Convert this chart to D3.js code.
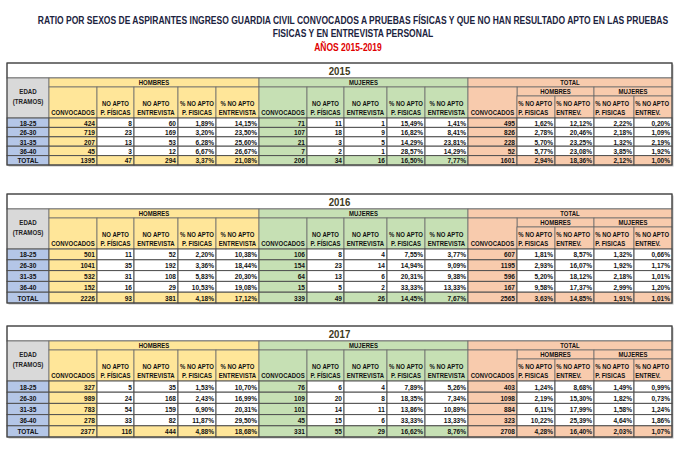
<!DOCTYPE html>
<html><head><meta charset="utf-8">
<script src="https://cdn.jsdelivr.net/npm/d3@7"></script>
<style>
html,body{margin:0;padding:0;background:#fff;}
svg{display:block;font-family:"Liberation Sans",Arial,sans-serif;font-weight:bold;}
</style></head><body>
<svg id="chart" width="682" height="452"></svg>
<script>
// ---------- DATA ----------
const titleLines = ["RATIO POR SEXOS DE ASPIRANTES INGRESO GUARDIA CIVIL CONVOCADOS A PRUEBAS FÍSICAS Y QUE NO HAN RESULTADO APTO EN LAS PRUEBAS",
                    "FISICAS Y EN ENTREVISTA PERSONAL"];
const subtitle = "AÑOS 2015-2019";
const years = ["2015", "2016", "2017"];
const ageGroups = ["18-25", "26-30", "31-35", "36-40", "TOTAL"];
const rowHeaderLabel = ["EDAD", "(TRAMOS)"];
const groupLabels = ["HOMBRES", "MUJERES", "TOTAL"];
const totalSubGroups = ["HOMBRES", "MUJERES"];
const sexColumns = [["CONVOCADOS"], ["NO APTO", "P. FÍSICAS"], ["NO APTO", "ENTREVISTA"], ["% NO APTO", "P. FISICAS"], ["% NO APTO", "ENTREVISTA"]];
const totalColumns = [["CONVOCADOS"], ["% NO APTO", "P. FISICAS"], ["% NO APTO", "ENTREV."], ["% NO APTO", "P. FISICAS"], ["% NO APTO", "ENTREV."]];

// rows: convocados, no apto físicas, no apto entrevista, % físicas, % entrevista
const hombres2015 = [[424, 8, 60, 1.89, 14.15], [719, 23, 169, 3.20, 23.50], [207, 13, 53, 6.28, 25.60], [45, 3, 12, 6.67, 26.67], [1395, 47, 294, 3.37, 21.08]];
const mujeres2015 = [[71, 11, 1, 15.49, 1.41], [107, 18, 9, 16.82, 8.41], [21, 3, 5, 14.29, 23.81], [7, 2, 1, 28.57, 14.29], [206, 34, 16, 16.50, 7.77]];
// rows: convocados, H % físicas, H % entrev., M % físicas, M % entrev.
const total2015 = [[495, 1.62, 12.12, 2.22, 0.20], [826, 2.78, 20.46, 2.18, 1.09], [228, 5.70, 23.25, 1.32, 2.19], [52, 5.77, 23.08, 3.85, 1.92], [1601, 2.94, 18.36, 2.12, 1.00]];

const hombres2016 = [[501, 11, 52, 2.20, 10.38], [1041, 35, 192, 3.36, 18.44], [532, 31, 108, 5.83, 20.30], [152, 16, 29, 10.53, 19.08], [2226, 93, 381, 4.18, 17.12]];
const mujeres2016 = [[106, 8, 4, 7.55, 3.77], [154, 23, 14, 14.94, 9.09], [64, 13, 6, 20.31, 9.38], [15, 5, 2, 33.33, 13.33], [339, 49, 26, 14.45, 7.67]];
const total2016 = [[607, 1.81, 8.57, 1.32, 0.66], [1195, 2.93, 16.07, 1.92, 1.17], [596, 5.20, 18.12, 2.18, 1.01], [167, 9.58, 17.37, 2.99, 1.20], [2565, 3.63, 14.85, 1.91, 1.01]];

const hombres2017 = [[327, 5, 35, 1.53, 10.70], [989, 24, 168, 2.43, 16.99], [783, 54, 159, 6.90, 20.31], [278, 33, 82, 11.87, 29.50], [2377, 116, 444, 4.88, 18.68]];
const mujeres2017 = [[76, 6, 4, 7.89, 5.26], [109, 20, 8, 18.35, 7.34], [101, 14, 11, 13.86, 10.89], [45, 15, 6, 33.33, 13.33], [331, 55, 29, 16.62, 8.76]];
const total2017 = [[403, 1.24, 8.68, 1.49, 0.99], [1098, 2.19, 15.30, 1.82, 0.73], [884, 6.11, 17.99, 1.58, 1.24], [323, 10.22, 25.39, 4.64, 1.86], [2708, 4.28, 16.40, 2.03, 1.07]];

// ---------- LAYOUT ----------
const colEdges = [7, 49, 97, 134, 178, 216, 259, 307, 344, 387, 425, 468, 517, 555, 594, 634, 672];
const tableLayout = [
  {top: 63, headEnd: 118, bottom: 165},
  {top: 194, headEnd: 249, bottom: 303},
  {top: 326, headEnd: 381, bottom: 437}
];
const yearH = 15, groupH = 9, subH = 9;
const NARROW = 0.82;
const fills = {
  label: "#b4c6e7", edad: "#d9d9d9",
  h: "#ffe699", m: "#c6e0b4", t: "#f8cbad"
};
const lineColor = "#6b6b6b";
const fmtPct = v => d3.format(".2f")(v).replace(".", ",") + "%";
const fmtInt = v => String(v);

const svg = d3.select("#chart");

// narrow text helper (horizontal compression, like Arial Narrow)
function ntext(parent, x, y, txt, size, anchor, fill, sx) {
  return parent.append("text")
    .attr("transform", `translate(${x},${y}) scale(${sx || NARROW},1)`)
    .attr("text-anchor", anchor || "middle")
    .attr("font-size", size).attr("fill", fill || "#111").text(txt);
}

// Title
const t1 = svg.append("text").attr("font-size", 10.4).text(titleLines[0]);
const titleScale = 630 / t1.node().getComputedTextLength();
t1.remove();
ntext(svg, 353, 23.5, titleLines[0], 10.4, "middle", "#1b2340", titleScale);
ntext(svg, 353, 37.2, titleLines[1], 10.4, "middle", "#1b2340", titleScale);
ntext(svg, 348, 50.8, subtitle, 10.4, "middle", "#e00000", titleScale);

const x = d3.scaleOrdinal().domain(d3.range(colEdges.length)).range(colEdges);

function groupOf(ci) { return ci <= 5 ? "h" : (ci <= 10 ? "m" : "t"); }

function drawTable(ti, year, hData, mData, tData) {
  const L = tableLayout[ti];
  const g = svg.append("g");
  const y0 = L.top, yGroup = y0 + yearH, ySub = yGroup + groupH, yHead = L.headEnd;
  const y = d3.scaleBand().domain(ageGroups).range([L.headEnd, L.bottom]);

  // outer shadow
  g.append("rect").attr("x", x(0) + 1.5).attr("y", y0 + 1.5).attr("width", x(16) - x(0)).attr("height", L.bottom - y0)
    .attr("fill", "#bdbdbd");
  // year row
  g.append("rect").attr("x", x(0)).attr("y", y0).attr("width", x(16) - x(0)).attr("height", yearH)
    .attr("fill", "#fff").attr("stroke", "#555").attr("stroke-width", 1);
  ntext(g, (x(0) + x(16)) / 2, y0 + yearH / 2 + 4, year, 11, "middle", "#3d3a1c", 0.88);

  // header: EDAD
  g.append("rect").attr("x", x(0)).attr("y", yGroup).attr("width", x(1) - x(0)).attr("height", yHead - yGroup)
    .attr("fill", fills.edad).attr("stroke", lineColor).attr("stroke-width", 0.8);
  rowHeaderLabel.forEach((t, i) => ntext(g, (x(0) + x(1)) / 2, yGroup + 16 + i * 9.5, t, 7.5, "middle", "#222"));

  // group headers
  const groupSpans = [[1, 6, "h"], [6, 11, "m"], [11, 16, "t"]];
  groupSpans.forEach(([a, b, k], gi) => {
    g.append("rect").attr("x", x(a)).attr("y", yGroup).attr("width", x(b) - x(a)).attr("height", groupH)
      .attr("fill", fills[k]).attr("stroke", lineColor).attr("stroke-width", 0.8);
    ntext(g, (x(a) + x(b)) / 2, yGroup + groupH - 1.8, groupLabels[gi], 7.3);
  });
  // total subgroups
  [[12, 14], [14, 16]].forEach(([a, b], si) => {
    g.append("rect").attr("x", x(a)).attr("y", ySub).attr("width", x(b) - x(a)).attr("height", subH)
      .attr("fill", fills.t).attr("stroke", lineColor).attr("stroke-width", 0.8);
    ntext(g, (x(a) + x(b)) / 2, ySub + subH - 1.6, totalSubGroups[si], 7.3);
  });
  // column headers
  for (let ci = 1; ci <= 15; ci++) {
    const k = groupOf(ci);
    const local = k === "h" ? ci - 1 : (k === "m" ? ci - 6 : ci - 11);
    const isTotal = k === "t";
    const top = (isTotal && local > 0) ? ySub + subH : ySub;
    g.append("rect").attr("x", x(ci)).attr("y", top).attr("width", x(ci + 1) - x(ci)).attr("height", yHead - top)
      .attr("fill", fills[k]).attr("stroke", lineColor).attr("stroke-width", 0.8);
    const lines = isTotal ? totalColumns[local] : sexColumns[local];
    const leftAlign = isTotal && local > 0;
    lines.forEach((t, li) => {
      ntext(g, leftAlign ? x(ci) + 1.2 : (x(ci) + x(ci + 1)) / 2,
        yHead - 3 - (lines.length - 1 - li) * 9, t, 7.3, leftAlign ? "start" : "middle");
    });
  }

  // data rows
  ageGroups.forEach((age, ri) => {
    const isTot = age === "TOTAL";
    const yy = y(age), hh = y.bandwidth();
    g.append("rect").attr("x", x(0)).attr("y", yy).attr("width", x(1) - x(0)).attr("height", hh)
      .attr("fill", fills.label).attr("stroke", "#505050").attr("stroke-width", 1);
    ntext(g, (x(0) + x(1)) / 2, yy + hh / 2 + 3, age, 8);
    const vals = [...hData[ri], ...mData[ri], ...tData[ri]];
    vals.forEach((v, vi) => {
      const ci = vi + 1;
      const k = groupOf(ci);
      const local = k === "h" ? ci - 1 : (k === "m" ? ci - 6 : ci - 11);
      const colored = isTot || local === 0;
      g.append("rect").attr("x", x(ci)).attr("y", yy).attr("width", x(ci + 1) - x(ci)).attr("height", hh)
        .attr("fill", colored ? fills[k] : "#fff").attr("stroke", "#505050").attr("stroke-width", 1);
      const isPct = (k === "t" ? local > 0 : local > 2);
      ntext(g, x(ci + 1) - 2, yy + hh / 2 + 3, isPct ? fmtPct(v) : fmtInt(v), 8, "end");
    });
  });

  // outer frame
  g.append("rect").attr("x", x(0)).attr("y", y0).attr("width", x(16) - x(0)).attr("height", L.bottom - y0)
    .attr("fill", "none").attr("stroke", "#444").attr("stroke-width", 1);
}

drawTable(0, years[0], hombres2015, mujeres2015, total2015);
drawTable(1, years[1], hombres2016, mujeres2016, total2016);
drawTable(2, years[2], hombres2017, mujeres2017, total2017);
</script></body></html>
